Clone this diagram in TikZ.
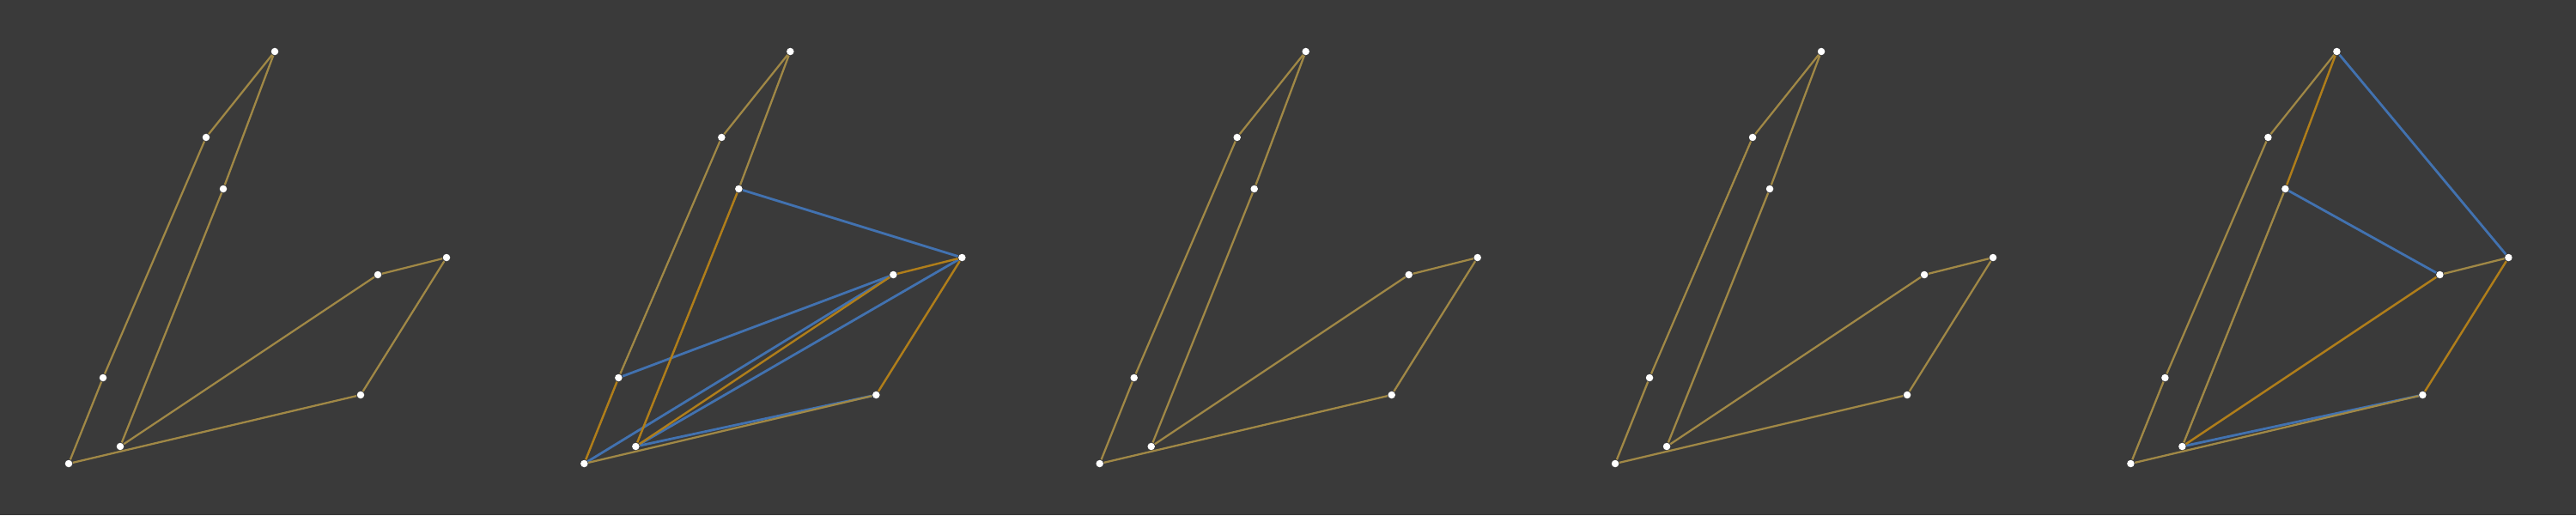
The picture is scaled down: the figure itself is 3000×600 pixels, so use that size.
\documentclass[tikz,border=0pt]{standalone}
\usepackage{tikz}

\definecolor{bg}{HTML}{3A3A3A}
\definecolor{gold}{HTML}{A08846}
\definecolor{amber}{HTML}{B07E1A}
\definecolor{steel}{HTML}{4272B0}

\tikzset{
    pt/.style={circle, fill=white, inner sep=0pt, minimum size=0.085cm},
    edge/.style={draw=gold, line width=0.65pt},
    hot/.style={draw=amber, line width=0.7pt},
    link/.style={draw=steel, line width=0.8pt},
}

% the nine corners of one panel, named with a prefix
\newcommand{\placepoints}[1]{%
    \node[pt] (#1a) at (320,60) {};
    \node[pt] (#1b) at (240,160) {};
    \node[pt] (#1c) at (260,220) {};
    \node[pt] (#1d) at (120,440) {};
    \node[pt] (#1e) at (80,540) {};
    \node[pt] (#1f) at (140,520) {};
    \node[pt] (#1g) at (440,320) {};
    \node[pt] (#1h) at (520,300) {};
    \node[pt] (#1i) at (420,460) {};
}

\begin{document}
\begin{tikzpicture}[x=0.01cm, y=-0.01cm]
    \fill[bg] (0,0) rectangle (3000,600);

    % panel 1
    \begin{scope}
        \placepoints{p}
        \draw[edge] (pa) -- (pb);
        \draw[edge] (pb) -- (pd);
        \draw[edge] (pd) -- (pe);
        \draw[edge] (pa) -- (pc);
        \draw[edge] (pc) -- (pf);
        \draw[edge] (pf) -- (pg);
        \draw[edge] (pg) -- (ph);
        \draw[edge] (ph) -- (pi);
        \draw[edge] (pi) -- (pe);
    \end{scope}

    % panel 2
    \begin{scope}[xshift=6cm]
        \placepoints{q}
        \draw[link] (qc) -- (qh);
        \draw[link] (qd) -- (qg);
        \draw[link] (qe) -- (qg);
        \draw[link] (qf) -- (qh);
        \draw[link] (qf) -- (qi);
        \draw[edge] (qa) -- (qb);
        \draw[edge] (qb) -- (qd);
        \draw[edge] (qa) -- (qc);
        \draw[edge] (qi) -- (qe);
        \draw[hot] (qd) -- (qe);
        \draw[hot] (qc) -- (qf);
        \draw[hot] (qf) -- (qg);
        \draw[hot] (qg) -- (qh);
        \draw[hot] (qh) -- (qi);
    \end{scope}

    % panel 3
    \begin{scope}[xshift=12cm]
        \placepoints{r}
        \draw[edge] (ra) -- (rb);
        \draw[edge] (rb) -- (rd);
        \draw[edge] (rd) -- (re);
        \draw[edge] (ra) -- (rc);
        \draw[edge] (rc) -- (rf);
        \draw[edge] (rf) -- (rg);
        \draw[edge] (rg) -- (rh);
        \draw[edge] (rh) -- (ri);
        \draw[edge] (ri) -- (re);
    \end{scope}

    % panel 4
    \begin{scope}[xshift=18cm]
        \placepoints{s}
        \draw[edge] (sa) -- (sb);
        \draw[edge] (sb) -- (sd);
        \draw[edge] (sd) -- (se);
        \draw[edge] (sa) -- (sc);
        \draw[edge] (sc) -- (sf);
        \draw[edge] (sf) -- (sg);
        \draw[edge] (sg) -- (sh);
        \draw[edge] (sh) -- (si);
        \draw[edge] (si) -- (se);
    \end{scope}

    % panel 5
    \begin{scope}[xshift=24cm]
        \placepoints{t}
        \draw[link] (ta) -- (th);
        \draw[link] (tc) -- (tg);
        \draw[link] (tf) -- (ti);
        \draw[edge] (ta) -- (tb);
        \draw[edge] (tb) -- (td);
        \draw[edge] (td) -- (te);
        \draw[edge] (tc) -- (tf);
        \draw[edge] (tg) -- (th);
        \draw[edge] (ti) -- (te);
        \draw[hot] (ta) -- (tc);
        \draw[hot] (tf) -- (tg);
        \draw[hot] (th) -- (ti);
    \end{scope}
\end{tikzpicture}
\end{document}
